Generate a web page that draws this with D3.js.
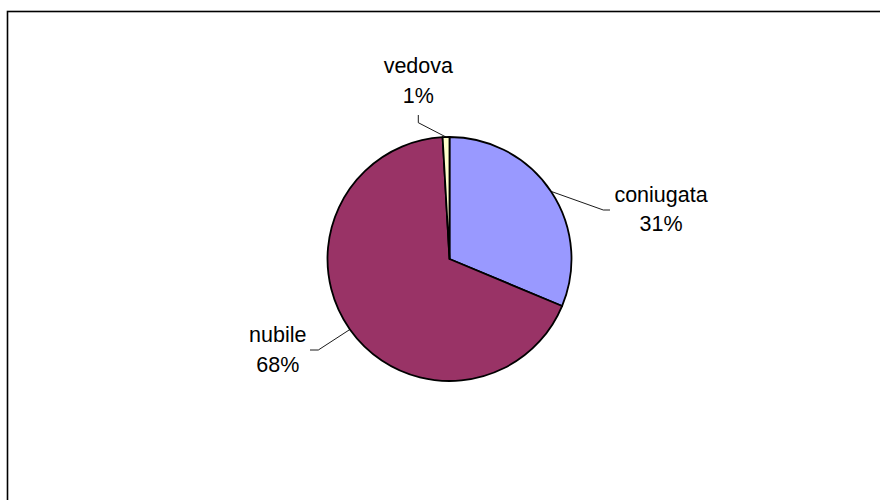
<!DOCTYPE html>
<html>
<head>
<meta charset="utf-8">
<script src="https://cdn.jsdelivr.net/npm/d3@7"></script>
<style>
  html, body { margin: 0; padding: 0; background: #fff; }
  svg { display: block; }
</style>
</head>
<body>
<svg id="chart" width="880" height="500"></svg>
<script>
// data
const categories = ["coniugata", "nubile", "vedova"];
const values = [31.3, 67.8, 0.9];
const colors = ["#9999FF", "#993366", "#FFFFCC"];

// label placement (offsets from pie centre): text centre x, first baseline y,
// leader start and elbow
const labelLayout = {
  coniugata: { tx: 211.5, ty: -57, lx: 160.5, ly: -49, ex: 153.8, ey: -49 },
  nubile:    { tx: -171.7, ty: 83.3, lx: -139.5, ly: 91, ex: -131.2, ey: 91 },
  vedova:    { tx: -31.2, ty: -185.7, lx: -31.2, ly: -144, ex: -31.2, ey: -136.3 }
};

const width = 880, height = 500;
const cx = 449.5, cy = 259, radius = 122;

const svg = d3.select("#chart");

// outer frame
svg.append("rect")
  .attr("x", 7.5).attr("y", 11.5)
  .attr("width", width).attr("height", height)
  .attr("fill", "none")
  .attr("stroke", "#000")
  .attr("stroke-width", 1.6);

const data = categories.map((c, i) => ({ name: c, value: values[i], color: colors[i] }));
const total = d3.sum(values);
const pct = d3.format(".0%");

const pie = d3.pie().value(d => d.value).sort(null);
const arc = d3.arc().innerRadius(0).outerRadius(radius);
const edge = d3.arc().innerRadius(radius).outerRadius(radius);

const g = svg.append("g").attr("transform", `translate(${cx},${cy})`);
const arcs = pie(data);

g.selectAll("path.slice")
  .data(arcs)
  .join("path")
  .attr("class", "slice")
  .attr("d", arc)
  .attr("fill", d => d.data.color)
  .attr("stroke", "#000")
  .attr("stroke-width", 1.8)
  .attr("stroke-linejoin", "round");

// leader lines
g.selectAll("polyline.leader")
  .data(arcs)
  .join("polyline")
  .attr("class", "leader")
  .attr("fill", "none")
  .attr("stroke", "#000")
  .attr("stroke-width", 0.9)
  .attr("points", d => {
    const L = labelLayout[d.data.name];
    const p = edge.centroid(d);
    return [[L.lx, L.ly], [L.ex, L.ey], p].map(q => q.join(",")).join(" ");
  });

// labels
const labels = g.selectAll("text.label")
  .data(arcs)
  .join("text")
  .attr("class", "label")
  .attr("text-anchor", "middle")
  .attr("font-family", "'Liberation Sans', Arial, sans-serif")
  .attr("font-size", 21.5)
  .attr("fill", "#000");

labels.append("tspan")
  .attr("x", d => labelLayout[d.data.name].tx)
  .attr("y", d => labelLayout[d.data.name].ty)
  .text(d => d.data.name);

labels.append("tspan")
  .attr("x", d => labelLayout[d.data.name].tx)
  .attr("y", d => labelLayout[d.data.name].ty + 29.3)
  .text(d => pct(d.data.value / total));
</script>
</body>
</html>
